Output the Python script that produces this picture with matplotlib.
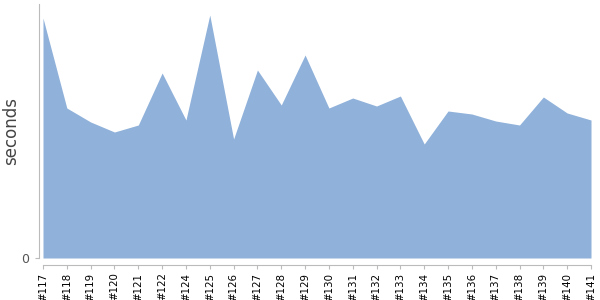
import matplotlib
matplotlib.use("Agg")
import matplotlib.pyplot as plt

builds = ["#117", "#118", "#119", "#120", "#121", "#122", "#124", "#125", "#126",
          "#127", "#128", "#129", "#130", "#131", "#132", "#133", "#134", "#135",
          "#136", "#137", "#138", "#139", "#140", "#141"]
seconds = [240, 150, 136, 126, 133, 185, 138, 243, 119, 188, 153, 203, 150, 160,
           152, 162, 114, 147, 144, 137, 133, 161, 145, 138]

fig = plt.figure(figsize=(6, 3), dpi=100)
ax = fig.add_axes([43/600, 1-258/300, (591-43)/600, 254/300])
x = list(range(len(builds)))
ax.fill_between(x, 0, seconds, color="#8fb1da", linewidth=0)
ax.set_xlim(0, len(builds)-1)
ax.set_ylim(0, 254)
for s in ["top", "right"]:
    ax.spines[s].set_visible(False)
ax.spines["left"].set_position(("outward", 3))
ax.spines["bottom"].set_position(("outward", 5))
for s in ["left", "bottom"]:
    ax.spines[s].set_color("#bbbbbb")
ax.tick_params(axis="x", length=3, color="#bbbbbb", pad=2.5, labelrotation=90,
               labelsize=7.4, labelcolor="black")
ax.tick_params(axis="y", length=3, color="#bbbbbb", pad=4, labelsize=9,
               labelcolor="#555555")
ax.set_xticks(x)
ax.set_xticklabels(builds)
ax.set_yticks([0])
ax.set_yticklabels(["0"])
ax.set_ylabel("seconds", fontsize=12, color="#444444")
ax.yaxis.set_label_coords(-23/548, 0.5)
fig.savefig("out.png", dpi=100)
